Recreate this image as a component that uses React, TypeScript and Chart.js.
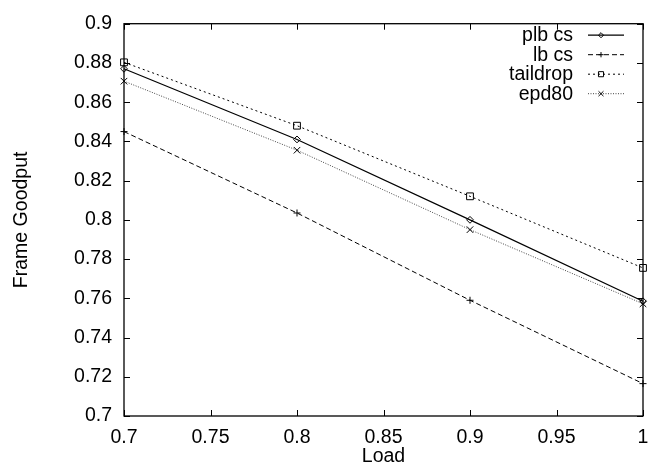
import React, { useEffect, useRef } from "react";
import { Chart, registerables } from "chart.js";

Chart.register(...registerables);

const loads = [0.7, 0.8, 0.9, 1.0];
const plbCs = [0.877, 0.841, 0.8, 0.7585];
const lbCs = [0.845, 0.8035, 0.759, 0.7165];
const taildrop = [0.8803, 0.848, 0.812, 0.7755];
const epd80 = [0.8707, 0.8355, 0.795, 0.7572];

const xTicks = [0.7, 0.75, 0.8, 0.85, 0.9, 0.95, 1.0];
const yTicks = [0.7, 0.72, 0.74, 0.76, 0.78, 0.8, 0.82, 0.84, 0.86, 0.88, 0.9];

const seriesNames = ["plb cs", "lb cs", "taildrop", "epd80"];

const FONT = "'Liberation Sans', Arial, Helvetica, sans-serif";
const FS = 19.5;

const fmt = (v: number) => String(parseFloat(Number(v).toFixed(3)));

type Style = {
  color: string;
  dash: number[];
  width: number;
  point: string;
  radius: number;
};

const styles: Style[] = [
  { color: "#000", dash: [], width: 1.2, point: "rectRot", radius: 3.4 },
  { color: "#000", dash: [5, 3], width: 1, point: "cross", radius: 3.5 },
  { color: "#000", dash: [2, 3], width: 1, point: "rect", radius: 4.8 },
  { color: "#444", dash: [1, 1.5], width: 1, point: "crossRot", radius: 4.6 },
];

function drawMarker(ctx: CanvasRenderingContext2D, kind: string, x: number, y: number, r: number) {
  ctx.beginPath();
  if (kind === "rectRot") {
    ctx.moveTo(x - r, y);
    ctx.lineTo(x, y - r);
    ctx.lineTo(x + r, y);
    ctx.lineTo(x, y + r);
    ctx.closePath();
  } else if (kind === "cross") {
    ctx.moveTo(x - r, y);
    ctx.lineTo(x + r, y);
    ctx.moveTo(x, y - r);
    ctx.lineTo(x, y + r);
  } else if (kind === "rect") {
    const s = Math.SQRT1_2 * r;
    ctx.rect(x - s, y - s, 2 * s, 2 * s);
  } else {
    const s = Math.SQRT1_2 * r;
    ctx.moveTo(x - s, y - s);
    ctx.lineTo(x + s, y + s);
    ctx.moveTo(x + s, y - s);
    ctx.lineTo(x - s, y + s);
  }
  ctx.stroke();
}

const framePlugin = {
  id: "gnuFrame",
  afterDatasetsDraw(chart: any) {
    const { ctx, chartArea } = chart;
    const xs = chart.scales.x;
    const ys = chart.scales.y;
    const { left, right, top, bottom } = chartArea;
    const tl = 6;
    ctx.save();
    ctx.strokeStyle = "#000";
    ctx.lineWidth = 1.3;
    ctx.setLineDash([]);
    ctx.strokeRect(left, top, right - left, bottom - top);
    ctx.lineWidth = 1;
    ctx.beginPath();
    xTicks.forEach((v) => {
      const px = Math.round(xs.getPixelForValue(v)) + 0.5;
      ctx.moveTo(px, bottom);
      ctx.lineTo(px, bottom - tl);
      ctx.moveTo(px, top);
      ctx.lineTo(px, top + tl);
    });
    yTicks.forEach((v) => {
      const py = Math.round(ys.getPixelForValue(v)) + 0.5;
      ctx.moveTo(left, py);
      ctx.lineTo(left + tl, py);
      ctx.moveTo(right, py);
      ctx.lineTo(right - tl, py);
    });
    ctx.stroke();

    // legend (gnuplot style: text right-aligned, sample to the right)
    const textRight = 573;
    const lineL = 588;
    const lineR = 624;
    const markX = 601;
    const rowY = [34.7, 54.2, 73.7, 93.2];
    ctx.font = `${FS}px ${FONT}`;
    ctx.textAlign = "right";
    ctx.textBaseline = "middle";
    ctx.fillStyle = "#000";
    chart.data.datasets.forEach((ds: any, i: number) => {
      const st = styles[i];
      const y = rowY[i];
      ctx.fillText(ds.label, textRight, y + 1);
      ctx.strokeStyle = st.color;
      ctx.lineWidth = st.width;
      ctx.setLineDash(st.dash);
      ctx.beginPath();
      ctx.moveTo(lineL, y + 0.5);
      ctx.lineTo(lineR, y + 0.5);
      ctx.stroke();
      ctx.setLineDash([]);
      ctx.lineWidth = 1;
      ctx.strokeStyle = "#000";
      drawMarker(ctx, st.point, markX, y + 0.5, st.radius * 0.75);
    });
    ctx.restore();
  },
};

export default function App() {
  const ref = useRef<HTMLCanvasElement | null>(null);

  useEffect(() => {
    document.body.style.margin = "0";
    const canvas = ref.current;
    if (!canvas) return;
    const allSeries = [plbCs, lbCs, taildrop, epd80];
    const datasets = allSeries.map((vals, i) => {
      const st = styles[i];
      return {
        label: seriesNames[i],
        data: loads.map((x, j) => ({ x, y: vals[j] })),
        borderColor: st.color,
        borderWidth: st.width,
        borderDash: st.dash,
        pointStyle: st.point,
        pointRadius: st.radius,
        pointBorderWidth: 1,
        pointBorderColor: "#000",
        pointBackgroundColor: "rgba(0,0,0,0)",
        showLine: true,
        fill: false,
        tension: 0,
        clip: false,
      };
    });

    const chart = new Chart(canvas, {
      type: "scatter",
      data: { datasets },
      plugins: [framePlugin],
      options: {
        animation: false,
        responsive: false,
        maintainAspectRatio: false,
        devicePixelRatio: 1,
        layout: { padding: { top: 8, right: 18, left: 0, bottom: 0 } },
        plugins: {
          legend: { display: false },
          tooltip: { enabled: false },
          title: { display: false },
        },
        scales: {
          x: {
            type: "linear",
            min: 0.7,
            max: 1.0,
            grid: { display: false, drawTicks: false },
            border: { display: false },
            afterBuildTicks: (s: any) => {
              s.ticks = xTicks.map((v) => ({ value: v }));
            },
            afterFit: (s: any) => {
              s.height = 53;
            },
            ticks: {
              padding: 10.3,
              maxRotation: 0,
              autoSkip: false,
              color: "#000",
              font: { family: FONT, size: FS },
              callback: (v: any) => fmt(v),
            },
            title: {
              display: true,
              text: "Load",
              color: "#000",
              font: { family: FONT, size: FS },
              padding: { top: 0, bottom: 0.3 },
            },
          },
          y: {
            type: "linear",
            min: 0.7,
            max: 0.9,
            grid: { display: false, drawTicks: false },
            border: { display: false },
            afterBuildTicks: (s: any) => {
              s.ticks = yTicks.map((v) => ({ value: v }));
            },
            afterFit: (s: any) => {
              s.width = 124;
            },
            ticks: {
              padding: 12,
              autoSkip: false,
              color: "#000",
              font: { family: FONT, size: FS },
              callback: (v: any) => fmt(v),
            },
            title: {
              display: true,
              text: "Frame Goodput",
              color: "#000",
              font: { family: FONT, size: FS },
              padding: { top: 10.3, bottom: 0 },
            },
          },
        },
      },
    } as any);

    return () => {
      chart.destroy();
    };
  }, []);

  return (
    <div style={{ width: 661, height: 469, background: "#fff" }}>
      <canvas ref={ref} width={661} height={469} style={{ display: "block" }} />
    </div>
  );
}
